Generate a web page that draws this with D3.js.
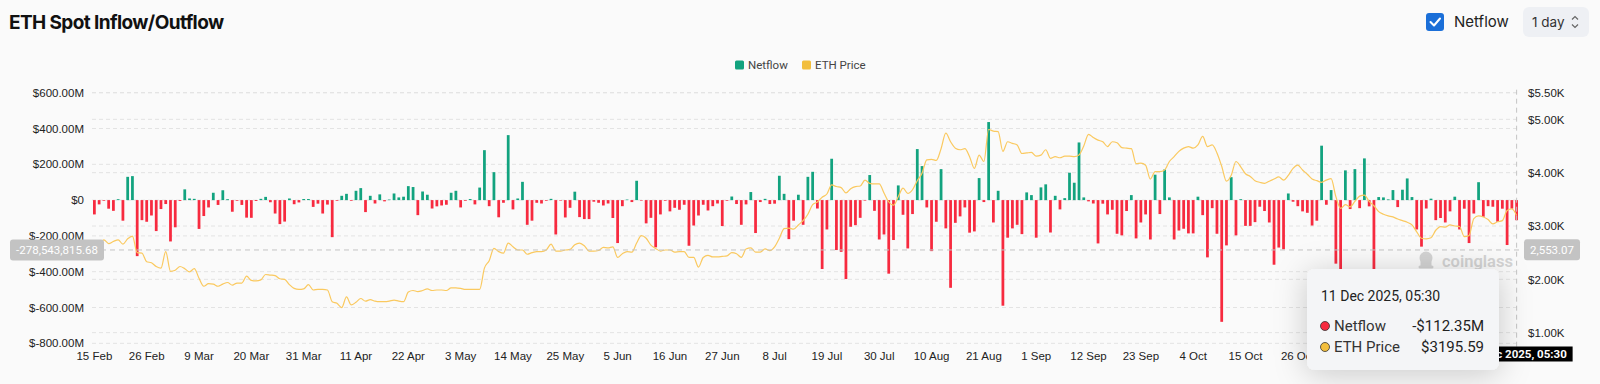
<!DOCTYPE html>
<html lang="en">
<head>
  <meta charset="UTF-8">
  <title>ETH Spot Inflow/Outflow</title>
  <script src="https://d3js.org/d3.v7.min.js"></script>
  <style>
    body { margin: 0; background: #fafafa; }
    svg { display: block; font-family: Roboto, "Noto Sans", sans-serif; }
    .grid line { stroke: #e3e3e3; stroke-dasharray: 4 3; }
    .axis text { fill: #222; font-size: 11.5px; }
  </style>
</head>
<body>
  <div id="chart"></div>
  <script>
    // daily data, first day and values (netflow in $M, price in $)
    const startDate = "2025-02-15";
    const netflow = [
      -80,-24,-4,-48,-60,5,-115,130,134,-313,
      -112,-121,-86,-173,-50,-22,-231,-152,-5,60,
      9,7,-161,-89,-41,41,-27,55,5,-65,
      -4,-27,-98,-99,-5,7,18,-12,-75,-134,
      -120,9,-23,-13,6,6,-38,-20,-75,-25,
      -207,-4,24,35,-4,52,67,-67,24,-19,
      32,-7,3,37,15,19,78,73,-84,48,
      30,-47,-35,-30,-26,41,52,-41,-4,6,
      -24,70,279,-34,156,-96,-15,363,-52,9,
      102,-138,-115,-15,-19,-4,7,-192,-3,-97,
      -43,47,-95,-106,-106,-9,-15,-30,-19,-100,
      -240,-34,3,-11,108,-3,-130,-99,-264,-80,
      -4,-63,-43,-54,-26,-255,-142,-86,-26,-58,
      -34,-19,-145,-4,20,-22,-138,-24,45,-184,
      -11,7,-22,-20,136,35,-218,-115,30,-138,
      130,158,-47,-385,-164,231,-279,-289,-441,-149,
      -140,-99,-3,140,-60,-220,-192,-411,-223,82,
      -82,-270,-78,285,190,-41,-285,-121,173,-158,
      -490,-127,-91,-41,-182,-175,123,-11,436,-125,
      52,-590,-210,-158,-138,-190,43,28,-210,71,
      88,-181,24,-52,11,153,97,322,15,-7,
      -19,-242,-20,-80,-54,-188,-197,-61,28,-214,
      -125,-80,-220,142,-78,171,15,-220,-170,-160,
      -186,-186,19,-84,-320,-45,-188,-680,-253,128,
      -197,5,-144,-144,-123,-37,-61,-125,-361,-265,
      -275,37,-9,-34,-63,-71,-142,-115,304,-26,
      56,-355,-420,166,-50,173,-45,233,-35,-430,
      17,15,4,56,-39,58,121,17,-164,-260,
      -47,8,-112,-100,-125,-63,19,-164,-48,-240,
      -75,100,-93,-34,-37,-121,-48,-251,-48,-112.35
    ];
    const ethPrice = [
      2720,2660,2740,2670,2710,2740,2660,2760,2810,2500,
      2490,2330,2310,2240,2210,2520,2150,2170,2240,2200,
      2140,2200,2020,1870,1920,1910,1870,1910,1940,1890,
      1930,1930,2060,1980,1970,1990,2090,2080,2070,2010,
      2000,1900,1830,1810,1820,1900,1800,1810,1810,1800,
      1580,1550,1470,1670,1520,1570,1640,1590,1620,1590,
      1580,1580,1590,1610,1590,1580,1760,1790,1770,1790,
      1820,1790,1800,1800,1790,1840,1840,1830,1810,1810,
      1810,1810,2210,2350,2580,2520,2490,2680,2610,2550,
      2550,2470,2500,2520,2520,2550,2660,2530,2530,2550,
      2560,2650,2680,2630,2530,2530,2540,2600,2590,2610,
      2410,2480,2520,2510,2680,2820,2770,2640,2580,2530,
      2550,2550,2510,2520,2520,2410,2410,2230,2410,2450,
      2420,2420,2430,2440,2500,2480,2410,2570,2590,2510,
      2510,2570,2540,2610,2770,2950,2960,2940,3020,3100,
      3220,3400,3450,3540,3600,3770,3740,3720,3620,3700,
      3740,3750,3860,3800,3790,3790,3620,3450,3390,3550,
      3710,3610,3680,3850,3990,4240,4250,4230,4450,4740,
      4580,4460,4430,4450,4300,4080,4330,4210,4810,4780,
      4770,4400,4580,4550,4520,4360,4370,4380,4310,4330,
      4430,4270,4300,4280,4310,4310,4300,4330,4500,4720,
      4660,4610,4580,4490,4580,4560,4470,4460,4450,4170,
      4180,4140,3880,4020,4020,4050,4210,4300,4400,4460,
      4490,4460,4520,4680,4490,4520,4370,4120,3840,3950,
      4210,4110,3980,3930,3850,3820,3800,3840,3880,3920,
      3860,3950,4080,4140,4050,3970,3880,3850,3820,3860,
      3890,3550,3330,3400,3360,3460,3560,3580,3460,3380,
      3270,3220,3190,3170,3130,3100,3070,3020,2890,2770,
      2760,2780,2920,2990,2980,3020,3000,2990,2800,2820,
      3140,3190,3170,3120,3040,3080,3100,3290,3320,3195.59
    ];
    const leftTicks = [600, 400, 200, 0, -200, -400, -600, -800];
    const rightTicks = [1000, 2000, 3000, 4000, 5000, 5500];
    const labelStep = 11;

    // hovered point shown in the screenshot
    const hoverIndex = netflow.length - 1;
    const hoverFlow = -278543815.68;   // crosshair y, left axis
    const hoverPrice = 2553.07;        // crosshair y, right axis

    const width = 1600;
    const height = 384;
    const margin = { top: 92.7, right: 81, bottom: 40.7, left: 92 };
    const green = "#12a37f", red = "#f72a3f", gold = "#fac95f", goldDot = "#f2be3d";
    const tipBox = { x: 1307, y: 269, w: 192, h: 101 };

    const start = d3.timeParse("%Y-%m-%d")(startDate);
    const dates = d3.timeDay.range(start, d3.timeDay.offset(start, netflow.length));
    const fmtDay = d3.timeFormat("%-d %b");
    const fmtFull = d3.timeFormat("%-d %b %Y, 05:30");
    const fmtComma = v => d3.format(",.2f")(v).replace("\u2212", "-");

    const svg = d3.select("#chart").append("svg")
      .attr("width", width)
      .attr("height", height);

    const defs = svg.append("defs");
    const shadow = defs.append("filter").attr("id", "shadow")
      .attr("x", "-50%").attr("y", "-50%").attr("width", "200%").attr("height", "200%");
    shadow.append("feDropShadow").attr("dx", 0).attr("dy", 4)
      .attr("stdDeviation", 16).attr("flood-color", "#000").attr("flood-opacity", 0.2);

    // scales
    const x = d3.scaleBand()
      .domain(d3.range(netflow.length))
      .range([margin.left, width - margin.right])
      .paddingInner(0.42)
      .paddingOuter(0.21);

    const yL = d3.scaleLinear().domain([-800, 600]).range([height - margin.bottom, margin.top]);
    const yR = d3.scaleLinear().domain([800, 5500]).range([height - margin.bottom, margin.top]);

    // title + controls
    svg.append("text")
      .attr("x", 9).attr("y", 28.5)
      .attr("font-family", "Inter, Roboto, sans-serif")
      .attr("font-size", 19).attr("font-weight", 700)
      .attr("letter-spacing", -0.6)
      .attr("fill", "#111")
      .text("ETH Spot Inflow/Outflow");

    svg.append("rect").attr("x", 1426).attr("y", 13).attr("width", 18).attr("height", 18)
      .attr("rx", 3).attr("fill", "#1b6fd8");
    svg.append("path").attr("d", "M1430.5 22 L1434 25.5 L1440 18.5")
      .attr("fill", "none").attr("stroke", "#fff").attr("stroke-width", 2)
      .attr("stroke-linecap", "round").attr("stroke-linejoin", "round");
    svg.append("text").attr("x", 1454).attr("y", 22).attr("dy", "0.35em")
      .attr("font-family", "Inter, Roboto, sans-serif").attr("font-size", 15)
      .attr("fill", "#222").text("Netflow");

    svg.append("rect").attr("x", 1523).attr("y", 7).attr("width", 66).attr("height", 30)
      .attr("rx", 6).attr("fill", "#eef0f4");
    svg.append("text").attr("x", 1532).attr("y", 22).attr("dy", "0.35em")
      .attr("font-family", "Inter, Roboto, sans-serif").attr("font-size", 13.5)
      .attr("fill", "#333").text("1 day");
    svg.append("path").attr("d", "M1572 19.5 L1575 16.5 L1578 19.5 M1572 24.5 L1575 27.5 L1578 24.5")
      .attr("fill", "none").attr("stroke", "#666").attr("stroke-width", 1.2);

    // legend
    const legend = svg.append("g").attr("font-size", 11.5).attr("fill", "#444");
    [["Netflow", green, 735], ["ETH Price", goldDot, 802]].forEach(([name, c, lx]) => {
      legend.append("rect").attr("x", lx).attr("y", 60.5).attr("width", 9).attr("height", 9)
        .attr("rx", 1.5).attr("fill", c);
      legend.append("text").attr("x", lx + 13).attr("y", 65).attr("dy", "0.35em").text(name);
    });

    // grid lines for both value axes
    const grid = svg.append("g").attr("class", "grid");
    grid.selectAll(".gl").data(leftTicks).enter().append("line")
      .attr("x1", margin.left).attr("x2", width - margin.right)
      .attr("y1", d => yL(d)).attr("y2", d => yL(d));
    grid.selectAll(".gr").data(rightTicks).enter().append("line")
      .attr("x1", margin.left).attr("x2", width - margin.right)
      .attr("y1", d => yR(d)).attr("y2", d => yR(d));

    // axes
    const leftAxis = d3.axisLeft(yL).tickValues(leftTicks).tickSize(0).tickPadding(8)
      .tickFormat(d => d === 0 ? "$0" : "$" + d.toFixed(2) + "M");
    svg.append("g").attr("class", "axis").attr("transform", `translate(${margin.left},0)`)
      .call(leftAxis).call(g => g.select(".domain").remove());

    const rightAxis = d3.axisRight(yR).tickValues(rightTicks).tickSize(0).tickPadding(9)
      .tickFormat(d => "$" + (d / 1000).toFixed(2) + "K");
    svg.append("g").attr("class", "axis").attr("transform", `translate(${width - margin.right},0)`)
      .call(rightAxis).call(g => g.select(".domain").remove());

    // date labels every 11 days; the ones under the tooltip are not visible
    const xTicks = d3.range(0, netflow.length, labelStep)
      .filter(i => x(i) + x.bandwidth() / 2 < tipBox.x);
    const xAxis = d3.axisBottom(x)
      .tickValues(xTicks)
      .tickSize(0).tickPadding(9)
      .tickFormat(i => fmtDay(dates[i]));
    svg.append("g").attr("class", "axis").attr("transform", `translate(0,${height - margin.bottom})`)
      .call(xAxis).call(g => g.select(".domain").remove());

    // netflow bars
    svg.append("g").selectAll("rect").data(netflow).enter().append("rect")
      .attr("x", (d, i) => x(i))
      .attr("width", x.bandwidth())
      .attr("y", d => yL(Math.max(0, d)))
      .attr("height", d => Math.abs(yL(d) - yL(0)))
      .attr("fill", d => d >= 0 ? green : red);

    // price line
    const line = d3.line()
      .x((d, i) => x(i) + x.bandwidth() / 2)
      .y(d => yR(d))
      .curve(d3.curveMonotoneX);
    svg.append("path").datum(ethPrice)
      .attr("fill", "none").attr("stroke", gold).attr("stroke-width", 1.2)
      .attr("d", line);

    // watermark
    const wm = svg.append("g").attr("fill", "#d3d3d3");
    wm.append("circle").attr("cx", 1426).attr("cy", 258).attr("r", 6.5);
    wm.append("rect").attr("x", 1420.5).attr("y", 258).attr("width", 11).attr("height", 9.5).attr("rx", 2);
    wm.append("rect").attr("x", 1418.5).attr("y", 265.5).attr("width", 15).attr("height", 3).attr("rx", 1.5);
    wm.append("text").attr("x", 1442).attr("y", 261).attr("dy", "0.35em")
      .attr("font-size", 16.5).attr("font-weight", 600).text("coinglass");

    // crosshair
    const cx = x(hoverIndex) + x.bandwidth() / 2;
    const cy = yL(hoverFlow / 1e6);
    svg.append("line").attr("x1", margin.left).attr("x2", width - margin.right)
      .attr("y1", cy).attr("y2", cy)
      .attr("stroke", "#c4c4c4").attr("stroke-dasharray", "5 4");
    svg.append("line").attr("x1", cx).attr("x2", cx)
      .attr("y1", margin.top - 3).attr("y2", height - margin.bottom + 4)
      .attr("stroke", "#c4c4c4").attr("stroke-dasharray", "5 4");

    svg.append("rect").attr("x", 10).attr("y", cy - 10.5).attr("width", 94).attr("height", 21)
      .attr("rx", 3).attr("fill", "#c3c3c3");
    svg.append("text").attr("x", 57).attr("y", cy).attr("dy", "0.35em")
      .attr("text-anchor", "middle").attr("font-size", 11.5).attr("fill", "#fff")
      .text(fmtComma(hoverFlow));

    svg.append("rect").attr("x", 1524).attr("y", yR(hoverPrice) - 10.5).attr("width", 56).attr("height", 21)
      .attr("rx", 3).attr("fill", "#c3c3c3");
    svg.append("text").attr("x", 1552).attr("y", yR(hoverPrice)).attr("dy", "0.35em")
      .attr("text-anchor", "middle").attr("font-size", 11.5).attr("fill", "#fff")
      .text(fmtComma(hoverPrice));

    // bottom crosshair date label (sits under the tooltip)
    svg.append("rect").attr("x", cx - 56).attr("y", 346.5).attr("width", 112).attr("height", 15)
      .attr("fill", "#000");
    svg.append("text").attr("x", cx).attr("y", 354).attr("dy", "0.35em")
      .attr("text-anchor", "middle").attr("font-size", 11.5).attr("font-weight", 700)
      .attr("fill", "#fff").text(fmtFull(dates[hoverIndex]));

    // tooltip
    const tip = svg.append("g");
    tip.append("rect").attr("x", tipBox.x).attr("y", tipBox.y).attr("width", tipBox.w).attr("height", tipBox.h)
      .attr("rx", 8).attr("fill", "#f4f5f7").attr("filter", "url(#shadow)");
    tip.append("text").attr("x", 1321).attr("y", 296).attr("dy", "0.35em")
      .attr("font-size", 14).attr("fill", "#222").text(fmtFull(dates[hoverIndex]));
    [[326, red, "Netflow", "-$" + Math.abs(netflow[hoverIndex]).toFixed(2) + "M"],
     [347, goldDot, "ETH Price", "$" + ethPrice[hoverIndex].toFixed(2)]].forEach(([ty, c, name, val]) => {
      tip.append("circle").attr("cx", 1325).attr("cy", ty).attr("r", 4.5)
        .attr("fill", c).attr("stroke", "#333").attr("stroke-width", 0.8);
      tip.append("text").attr("x", 1334).attr("y", ty).attr("dy", "0.35em")
        .attr("font-size", 15).attr("fill", "#333").text(name);
      tip.append("text").attr("x", 1484).attr("y", ty).attr("dy", "0.35em")
        .attr("text-anchor", "end").attr("font-size", 15)
        .attr("fill", "#222").text(val);
    });
  </script>
</body>
</html>
